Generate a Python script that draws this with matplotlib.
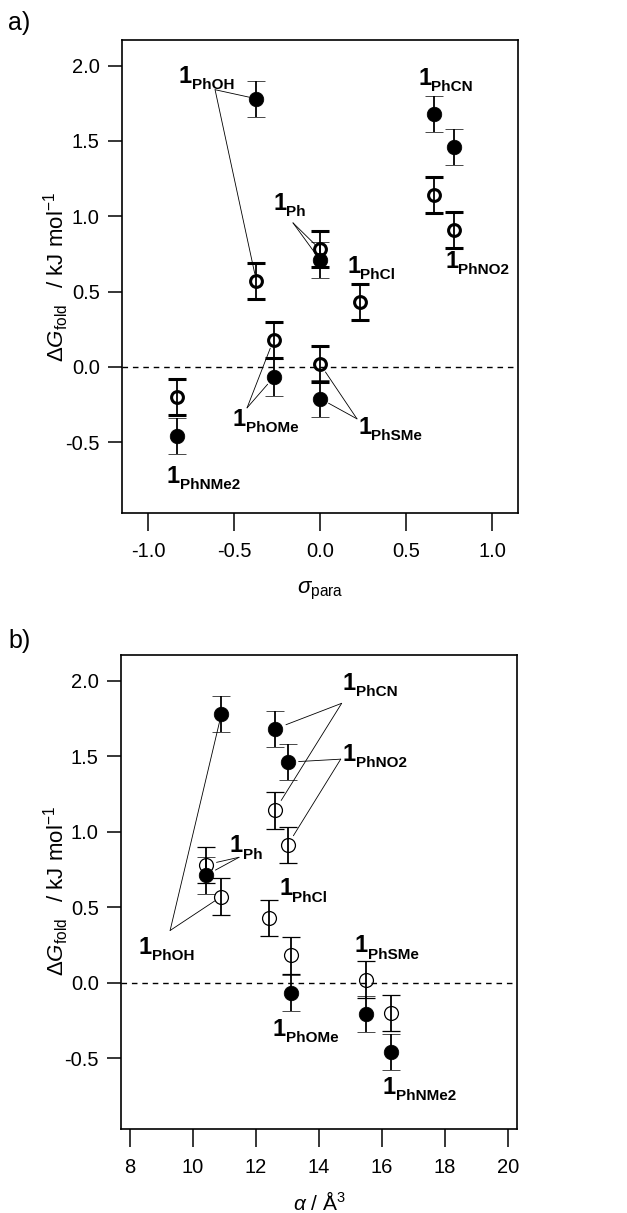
import numpy as np
import matplotlib
matplotlib.use('Agg')
import matplotlib.pyplot as plt
from matplotlib import font_manager

plt.rcParams['font.family'] = ['Liberation Sans', 'DejaVu Sans']
plt.rcParams['mathtext.fontset'] = 'custom'
plt.rcParams['mathtext.rm'] = 'Liberation Sans'
plt.rcParams['mathtext.it'] = 'Liberation Sans:italic'
plt.rcParams['mathtext.bf'] = 'Liberation Sans:bold'

_names = {f.name for f in font_manager.fontManager.ttflist}
if 'Liberation Sans Narrow' in _names:
    LABEL_FONT, ONE_SIZE, SUB_SIZE, ONE_ADV = 'Liberation Sans Narrow', 20, 12.5, 0.456
else:
    LABEL_FONT, ONE_SIZE, SUB_SIZE, ONE_ADV = 'Liberation Sans', 17, 11, 0.556

# ---------------- data ----------------
compounds = ['PhNMe2', 'PhOH', 'PhOMe', 'Ph', 'PhSMe', 'PhCl', 'PhCN', 'PhNO2']
sigma_para = [-0.83, -0.37, -0.27, 0.00, 0.00, 0.23, 0.66, 0.78]
alpha_vol = [16.3, 10.9, 13.1, 10.4, 15.5, 12.4, 12.6, 13.0]
dG_closed = [-0.46, 1.78, -0.07, 0.71, -0.21, np.nan, 1.68, 1.46]
dG_open = [-0.20, 0.57, 0.18, 0.78, 0.02, 0.43, 1.14, 0.91]
err_closed = [0.12, 0.12, 0.12, 0.12, 0.12, 0.12, 0.12, 0.12]
err_open = [0.12, 0.12, 0.12, 0.12, 0.12, 0.12, 0.12, 0.12]

yticks = [-0.5, 0.0, 0.5, 1.0, 1.5, 2.0]
xticks_a = [-1.0, -0.5, 0.0, 0.5, 1.0]
xticks_b = [8, 10, 12, 14, 16, 18, 20]

# ---------------- label layout ----------------
# label: (text x, text y, leader start or None, targets ('c'/'o'), shrink pt)
labels_a = {
    'PhOH':   (-0.82, 1.886, (-0.61, 1.84), ['c', 'o'], 5.5),
    'Ph':     (-0.273, 1.04, (-0.157, 0.956), ['o', 'c'], 5.0),
    'PhCl':   (0.157, 0.624, None, [], 0),
    'PhCN':   (0.57, 1.87, None, [], 0),
    'PhNO2':  (0.727, 0.657, None, [], 0),
    'PhOMe':  (-0.506, -0.39, (-0.424, -0.272), ['o', 'c'], 6.5),
    'PhSMe':  (0.221, -0.445, (0.215, -0.345), ['o', 'c'], 7.0),
    'PhNMe2': (-0.89, -0.77, None, [], 0),
}
labels_b = {
    'PhCN':   (14.76, 1.94, (14.72, 1.85), ['c', 'o'], 8.5),
    'PhNO2':  (14.76, 1.47, (14.69, 1.48), ['c', 'o'], 8.0),
    'Ph':     (11.17, 0.863, (11.46, 0.83), ['o', 'c'], 8.0),
    'PhCl':   (12.73, 0.578, None, [], 0),
    'PhOH':   (8.27, 0.19, (9.27, 0.345), ['c', 'o'], 5.5),
    'PhOMe':  (12.53, -0.352, None, [], 0),
    'PhSMe':  (15.14, 0.20, None, [], 0),
    'PhNMe2': (16.03, -0.737, None, [], 0),
}

W, H = 627, 1213
fig = plt.figure(figsize=(W / 100, H / 100), dpi=100)

ax_a = fig.add_axes([122 / W, 1 - 513 / H, 396 / W, 473 / H])
ax_b = fig.add_axes([121 / W, 1 - 1129 / H, 396 / W, 474 / H])


def style_axes(ax, xlim, xticks):
    ax.set_xlim(*xlim)
    ax.set_ylim(-0.97, 2.17)
    ax.set_xticks(xticks)
    ax.set_yticks(yticks)
    ax.set_xticklabels([f'{t:.1f}' if isinstance(t, float) else str(t) for t in xticks])
    ax.set_yticklabels([f'{t:.1f}' for t in yticks])
    for s in ax.spines.values():
        s.set_linewidth(1.2)
    ax.tick_params(axis='y', direction='out', length=10, width=1.1, pad=6, labelsize=14.5)
    ax.tick_params(axis='x', direction='out', length=13, width=1.1, pad=8, labelsize=14.5)
    ax.axhline(0, color='black', lw=1.0, ls=(0, (4, 3.5)), zorder=1)


def plot_panel(ax, xs, open_ms, open_mew, labels):
    xs = np.array(xs, dtype=float)
    yc = np.array(dG_closed, dtype=float)
    yo = np.array(dG_open, dtype=float)
    ax.errorbar(xs, yo, yerr=err_open, fmt='o', ms=open_ms, mfc='none', mec='black',
                mew=open_mew, ecolor='black', elinewidth=1.3, capsize=6.5, capthick=1.6,
                zorder=3)
    m = ~np.isnan(yc)
    ax.errorbar(xs[m], yc[m], yerr=np.array(err_closed)[m], fmt='o', ms=10.5, mfc='black',
                mec='black', mew=0.5, ecolor='black', elinewidth=1.3, capsize=6.5,
                capthick=1.6, zorder=3)
    for name, (tx, ty, start, targets, shrink) in labels.items():
        i = compounds.index(name)
        ax.text(tx, ty, '1', fontsize=ONE_SIZE, fontweight='bold', family=LABEL_FONT,
                ha='left', va='baseline', zorder=5)
        ax.annotate(name, xy=(tx, ty), xytext=(ONE_ADV * ONE_SIZE, -4.5),
                    textcoords='offset points', fontsize=SUB_SIZE, fontweight='bold',
                    family=LABEL_FONT, ha='left', va='baseline', zorder=5)
        if start is not None:
            for t in targets:
                yv = dG_closed[i] if t == 'c' else dG_open[i]
                ax.annotate('', xy=(xs[i], yv), xytext=start,
                            arrowprops=dict(arrowstyle='-', lw=0.6, color='black',
                                            shrinkA=0, shrinkB=shrink))


style_axes(ax_a, (-1.151, 1.151), xticks_a)
plot_panel(ax_a, sigma_para, 8.5, 2.2, labels_a)
style_axes(ax_b, (7.71, 20.29), xticks_b)
plot_panel(ax_b, alpha_vol, 10.0, 0.9, labels_b)

ylab = r'$\Delta\mathit{G}_{\mathrm{fold}}\;\;$ / kJ mol$^{-1}$'
fig.text(56 / W, 1 - 277 / H, ylab, rotation=90, ha='center', va='center', fontsize=16)
fig.text(56 / W, 1 - 891 / H, ylab, rotation=90, ha='center', va='center', fontsize=16)

ax_a.text(0.5, -0.169, r'$\mathit{\sigma}_{\mathrm{para}}$', transform=ax_a.transAxes,
          ha='center', va='baseline', fontsize=16)
ax_b.text(0.5, -0.171, r'$\mathit{\alpha}$ / Å$^{3}$', transform=ax_b.transAxes,
          ha='center', va='baseline', fontsize=15)

fig.text(8 / W, 1 - 30 / H, 'a)', fontsize=18, ha='left', va='baseline')
fig.text(8 / W, 1 - 648 / H, 'b)', fontsize=18, ha='left', va='baseline')

fig.savefig('out.png', dpi=100)
